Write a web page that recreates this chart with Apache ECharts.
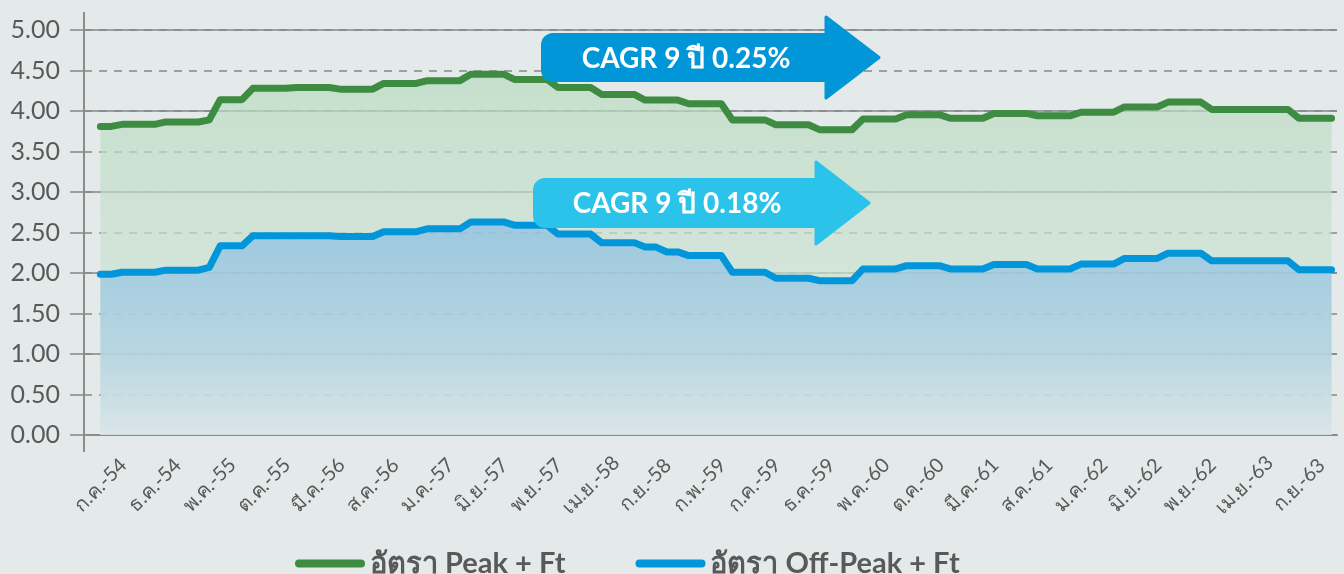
<!DOCTYPE html>
<html>
<head>
<meta charset="utf-8">
<script src="https://cdn.jsdelivr.net/npm/echarts@6/dist/echarts.min.js"></script>
<style>
html,body{margin:0;padding:0;background:#E4EAEA;}
#chart{width:1344px;height:574px;}
</style>
</head>
<body>
<div id="chart"></div>
<script>
// Month labels (Thai short month + Buddhist-era year), Jul 2011 (ก.ค.-54) .. Dec 2020 (ธ.ค.-63)
const thaiMonths = ['ม.ค.','ก.พ.','มี.ค.','เม.ย.','พ.ค.','มิ.ย.','ก.ค.','ส.ค.','ก.ย.','ต.ค.','พ.ย.','ธ.ค.'];
const startYear = 54, startMonth = 6, monthCount = 114;
const months = [];
for (let i = 0; i < monthCount; i++) {
  const m = (startMonth + i) % 12;
  const y = startYear + Math.floor((startMonth + i) / 12);
  months.push(thaiMonths[m] + '-' + y);
}

// อัตรา Peak + Ft (บาท/หน่วย)
const peak = [
  3.81,3.81,
  3.835,3.835,3.835,3.835,
  3.865,3.865,3.865,3.865,
  3.89,
  4.14,4.14,4.14,
  4.28,4.28,4.28,4.28,
  4.29,4.29,4.29,4.29,
  4.27,4.27,4.27,4.27,
  4.34,4.34,4.34,4.34,
  4.375,4.375,4.375,4.375,
  4.455,4.455,4.455,4.455,
  4.39,4.39,4.39,4.39,
  4.29,4.29,4.29,4.29,
  4.205,4.205,4.205,4.205,
  4.135,4.135,4.135,4.135,
  4.09,4.09,4.09,4.09,
  3.89,3.89,3.89,3.89,
  3.83,3.83,3.83,3.83,
  3.77,3.77,3.77,3.77,
  3.90,3.90,3.90,3.90,
  3.955,3.955,3.955,3.955,
  3.91,3.91,3.91,3.91,
  3.97,3.97,3.97,3.97,
  3.94,3.94,3.94,3.94,
  3.985,3.985,3.985,3.985,
  4.05,4.05,4.05,4.05,
  4.11,4.11,4.11,4.11,
  4.02,4.02,4.02,4.02,4.02,4.02,4.02,4.02,
  3.91,3.91,3.91,3.91
];

// อัตรา Off-Peak + Ft (บาท/หน่วย)
const offPeak = [
  1.985,1.985,
  2.01,2.01,2.01,2.01,
  2.035,2.035,2.035,2.035,
  2.07,
  2.335,2.335,2.335,
  2.46,2.46,2.46,2.46,
  2.46,2.46,2.46,2.46,
  2.45,2.45,2.45,2.45,
  2.51,2.51,2.51,2.51,
  2.545,2.545,2.545,2.545,
  2.63,2.63,2.63,2.63,
  2.59,2.59,2.59,2.59,
  2.48,2.48,2.48,2.48,
  2.375,2.375,2.375,2.375,
  2.32,2.32,2.26,2.26,
  2.215,2.215,2.215,2.215,
  2.01,2.01,2.01,2.01,
  1.935,1.935,1.935,1.935,
  1.905,1.905,1.905,1.905,
  2.05,2.05,2.05,2.05,
  2.09,2.09,2.09,2.09,
  2.05,2.05,2.05,2.05,
  2.105,2.105,2.105,2.105,
  2.05,2.05,2.05,2.05,
  2.11,2.11,2.11,2.11,
  2.18,2.18,2.18,2.18,
  2.245,2.245,2.245,2.245,
  2.15,2.15,2.15,2.15,2.15,2.15,2.15,2.15,
  2.04,2.04,2.04,2.04
];

const yTicks = [0, 5, 0.5];   // min, max, step
const seriesNames = ['อัตรา Peak + Ft', 'อัตรา Off-Peak + Ft'];
const cagrTexts = ['CAGR 9 ปี 0.25%', 'CAGR 9 ปี 0.18%'];

// one empty leading slot so the first month sits a little inside the axis
const categories = [''].concat(months);
const peakData = [null].concat(peak);
const offData = [null].concat(offPeak);

const FONT = 'Lato, "Noto Sans", sans-serif';
const GRID = {left: 84, right: 7, top: 30, bottom: 139};
const gridCol = '#878787';
const txtCol = '#595959';

const chart = echarts.init(document.getElementById('chart'), null, {renderer: 'canvas'});

function arrow(x, y, w, h, headW, headH, color, text) {
  const cy = y + h / 2;
  return {
    type: 'group', z: 100,
    children: [
      {type: 'rect', shape: {x: x, y: y, width: w, height: h, r: [12, 0, 0, 12]}, style: {fill: color}, z: 100},
      {type: 'polygon', shape: {points: [[x + w - 1, cy - headH / 2], [x + w + headW, cy], [x + w - 1, cy + headH / 2]]},
        style: {fill: color, lineJoin: 'round', stroke: color, lineWidth: 3}, z: 100},
      {type: 'text', x: x + w / 2 + 2, y: cy + 1, z: 101,
        style: {text: text, fill: '#ffffff', font: 'bold 28px ' + FONT, align: 'center', verticalAlign: 'middle'}}
    ]
  };
}

const option = {
  backgroundColor: '#E4EAEA',
  animation: false,
  grid: GRID,
  legend: {
    left: 290, top: 544,
    itemWidth: 70, itemHeight: 8, itemGap: 70,
    icon: 'path://M4,0 H66 A4,4 0 0 1 66,8 H4 A4,4 0 0 1 4,0 Z',
    textStyle: {color: txtCol, fontSize: 29, fontWeight: 'bold', fontFamily: FONT},
    data: seriesNames
  },
  xAxis: {
    type: 'category',
    data: categories,
    boundaryGap: true,
    axisLine: {lineStyle: {color: '#8c8c8c', width: 2}},
    axisTick: {
      alignWithLabel: true, length: 17,
      interval: function (i) { return i > 0 && i % 5 === 0; },
      lineStyle: {color: '#8c8c8c', width: 2}
    },
    axisLabel: {
      interval: function (i) { return i > 0 && (i - 1) % 5 === 0; },
      rotate: 45, align: 'center', verticalAlign: 'middle', margin: 50,
      color: txtCol, fontSize: 20, fontFamily: FONT
    },
    splitLine: {show: false}
  },
  yAxis: [
    {
      type: 'value', min: yTicks[0], max: yTicks[1], interval: yTicks[2],
      axisLine: {show: true, lineStyle: {color: '#8c8c8c', width: 2}},
      axisTick: {show: true, length: 14, lineStyle: {color: gridCol, width: 1.5}},
      axisLabel: {formatter: function (v) { return v.toFixed(2); }, color: txtCol, fontSize: 25, fontFamily: FONT, margin: 24},
      splitLine: {show: true, lineStyle: {color: gridCol, width: 1.5, type: [8, 7]}}
    },
    {
      type: 'value', min: yTicks[0], max: yTicks[1], interval: yTicks[2] * 2, position: 'left',
      axisLine: {show: false}, axisTick: {show: false}, axisLabel: {show: false},
      splitLine: {show: true, lineStyle: {color: gridCol, width: 1.5, type: 'solid'}}
    }
  ],
  series: [
    {
      name: seriesNames[0], type: 'line', data: peakData, yAxisIndex: 0,
      showSymbol: false, symbol: 'none', z: 3,
      lineStyle: {color: '#3D8C41', width: 7, cap: 'round', join: 'round'},
      itemStyle: {color: '#3D8C41'},
      areaStyle: {
        origin: 'start',
        color: new echarts.graphic.LinearGradient(0, 0, 0, 1, [
          {offset: 0, color: '#B9DBC0'},
          {offset: 1, color: '#DCE7E1'}
        ])
      }
    },
    {
      name: seriesNames[1], type: 'line', data: offData, yAxisIndex: 0,
      showSymbol: false, symbol: 'none', z: 4,
      lineStyle: {color: '#0096D9', width: 7, cap: 'round', join: 'round'},
      itemStyle: {color: '#0096D9'},
      areaStyle: {
        origin: 'start',
        color: new echarts.graphic.LinearGradient(0, 0, 0, 1, [
          {offset: 0, color: '#86BCE3'},
          {offset: 0.6, color: '#A9CFE2'},
          {offset: 1, color: '#D8E4E9'}
        ])
      }
    }
  ],
  graphic: [
    // y-axis line extending above the top gridline and below the x axis
    {type: 'line', z: 50, shape: {x1: GRID.left, y1: 12, x2: GRID.left, y2: GRID.top}, style: {stroke: '#8c8c8c', lineWidth: 2}},
    {type: 'line', z: 50, shape: {x1: GRID.left, y1: 574 - GRID.bottom, x2: GRID.left, y2: 574 - GRID.bottom + 17}, style: {stroke: '#8c8c8c', lineWidth: 2}},
    arrow(541, 33, 286, 49, 52, 81, '#0096D8', cagrTexts[0]),
    arrow(533, 178, 284, 50, 52, 82, '#2BC3EA', cagrTexts[1])
  ]
};
chart.setOption(option);
</script>
</body>
</html>
